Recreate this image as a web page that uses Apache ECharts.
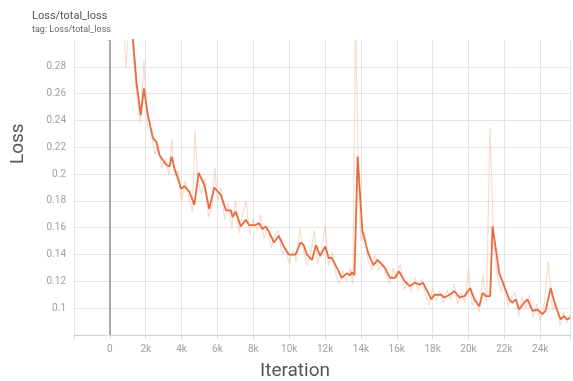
<!DOCTYPE html>
<html>
<head>
<meta charset="utf-8">
<script src="https://cdn.jsdelivr.net/npm/echarts@6/dist/echarts.min.js"></script>
<style>
html,body{margin:0;padding:0;background:#fff;}
#chart{width:573px;height:381px;}
</style>
</head>
<body>
<div id="chart"></div>
<script>
// Smoothed loss: [iteration, loss]
var smoothed = [
[600,0.36],[1000,0.325],[1290,0.30],[1480,0.269],[1720,0.244],[1900,0.264],[2120,0.244],[2400,0.227],[2590,0.224],[2770,0.214],
[3140,0.207],[3330,0.2057],[3440,0.213],[3600,0.2044],[3790,0.197],[3970,0.189],[4160,0.191],[4430,0.187],[4710,0.177],[4950,0.201],
[5270,0.192],[5540,0.174],[5820,0.19],[6190,0.1845],[6470,0.173],[6750,0.173],[6840,0.168],[7020,0.172],[7300,0.161],[7580,0.166],
[7760,0.162],[8130,0.162],[8310,0.1635],[8500,0.159],[8680,0.161],[8870,0.157],[9150,0.149],[9420,0.154],[9700,0.146],[9980,0.14],
[10350,0.14],[10630,0.149],[10810,0.147],[10990,0.14],[11270,0.136],[11490,0.147],[11730,0.139],[12010,0.146],[12200,0.1375],[12380,0.1375],
[12660,0.130],[12930,0.1226],[13210,0.126],[13400,0.1245],[13490,0.127],[13640,0.1245],[13820,0.213],[14080,0.158],[14230,0.15],[14410,0.141],
[14690,0.132],[14930,0.136],[15340,0.130],[15620,0.1226],[15900,0.1226],[16120,0.1275],[16450,0.12],[16720,0.1164],[17000,0.119],[17280,0.1176],
[17460,0.119],[17650,0.114],[17930,0.1066],[18100,0.110],[18470,0.110],[18660,0.108],[18940,0.110],[19220,0.1126],[19500,0.108],[19770,0.109],
[20100,0.115],[20320,0.1066],[20600,0.1015],[20790,0.1114],[20970,0.109],[21210,0.109],[21340,0.161],[21530,0.1436],[21710,0.1263],[21990,0.1164],
[22270,0.1066],[22450,0.104],[22640,0.1066],[22820,0.099],[23100,0.104],[23290,0.1066],[23570,0.098],[23840,0.099],[24120,0.0955],[24300,0.098],
[24580,0.115],[24860,0.1015],[25140,0.0916],[25320,0.094],[25500,0.0916],[25660,0.0928]
];
// Raw loss: [iteration, loss]
var raw = [
[500,0.40],[700,0.33],[900,0.279],[1100,0.32],[1300,0.29],[1500,0.26],[1700,0.238],[1900,0.285],[2100,0.235],[2300,0.232],
[2500,0.215],[2700,0.222],[2900,0.205],[3100,0.212],[3300,0.199],[3450,0.226],[3600,0.198],[3800,0.203],[4000,0.18],[4200,0.195],
[4400,0.183],[4600,0.172],[4750,0.233],[4900,0.196],[5100,0.185],[5300,0.197],[5500,0.168],[5700,0.176],[5850,0.205],[6000,0.18],
[6200,0.19],[6400,0.166],[6600,0.178],[6800,0.16],[7000,0.18],[7200,0.156],[7400,0.17],[7600,0.18],[7800,0.155],[8000,0.167],
[8200,0.158],[8400,0.17],[8600,0.152],[8800,0.162],[9000,0.145],[9200,0.155],[9400,0.158],[9600,0.14],[9800,0.145],[10000,0.133],
[10200,0.143],[10400,0.135],[10600,0.16],[10800,0.143],[11000,0.132],[11200,0.14],[11400,0.158],[11600,0.133],[11800,0.143],[12000,0.161],
[12200,0.132],[12400,0.142],[12600,0.125],[12800,0.118],[13000,0.128],[13200,0.12],[13400,0.13],[13550,0.118],[13700,0.32],[13850,0.2],
[14000,0.15],[14200,0.157],[14400,0.135],[14600,0.128],[14800,0.14],[15000,0.128],[15200,0.134],[15400,0.125],[15600,0.118],[15800,0.13],
[16000,0.122],[16200,0.133],[16400,0.114],[16600,0.12],[16800,0.112],[17000,0.123],[17200,0.113],[17400,0.122],[17600,0.11],[17800,0.102],
[18000,0.115],[18200,0.105],[18400,0.113],[18600,0.104],[18800,0.114],[19000,0.106],[19200,0.118],[19400,0.103],[19600,0.112],[19800,0.104],
[20000,0.13],[20200,0.102],[20400,0.108],[20600,0.097],[20800,0.125],[21000,0.104],[21200,0.235],[21400,0.15],[21600,0.125],[21800,0.112],
[22000,0.12],[22200,0.101],[22400,0.108],[22600,0.112],[22800,0.094],[23000,0.108],[23200,0.1],[23400,0.11],[23600,0.093],[23800,0.103],
[24000,0.091],[24200,0.1],[24450,0.135],[24700,0.098],[24900,0.104],[25100,0.087],[25300,0.097],[25500,0.089],[25660,0.095]
];
var titleText = 'Loss/total_loss';
var tagText = 'tag: Loss/total_loss';
var xName = 'Iteration';
var yName = 'Loss';

var chart = echarts.init(document.getElementById('chart'), null, {renderer:'canvas'});
var fam = 'Roboto, "Noto Sans", sans-serif';
var gridColors = ['#e4e4e4','#e4e4e4','#e4e4e4','#e4e4e4','#e4e4e4','#e4e4e4','#e4e4e4','#e4e4e4','#e4e4e4','#e4e4e4','#e4e4e4','rgba(0,0,0,0)'];
chart.setOption({
  animation:false,
  backgroundColor:'#fff',
  title:{
    text:titleText, subtext:tagText, left:27, top:6, itemGap:3,
    textStyle:{fontFamily:fam,fontSize:11,fontWeight:'normal',color:'#555'},
    subtextStyle:{fontFamily:fam,fontSize:9,color:'#666'}
  },
  grid:{left:74,right:0,top:40,bottom:46,containLabel:false},
  xAxis:{
    type:'value', min:-2000, max:25660, interval:2000,
    axisLine:{show:true,lineStyle:{color:'#cfcfcf',width:1}},
    axisTick:{show:true,length:4,lineStyle:{color:'#d8d8d8'}},
    axisLabel:{
      color:'#a0a0a0', fontSize:10, fontFamily:fam, margin:9,
      formatter:function(v){
        if (v < 0 || Math.abs(v % 2000) > 1e-6) return '';
        return v === 0 ? '0' : (v/1000)+'k';
      }
    },
    splitLine:{show:true,lineStyle:{color:'#e4e4e4',width:1}}
  },
  yAxis:{
    type:'value', min:0.08, max:0.30, interval:0.02,
    axisLine:{show:false},
    axisTick:{show:true,length:4,lineStyle:{color:'#e0e0e0'}},
    axisLabel:{
      color:'#a0a0a0', fontSize:10, fontFamily:fam, margin:8,
      formatter:function(v){
        var r = Math.round(v*100)/100;
        if (r < 0.09 || r > 0.29) return '';
        return String(r);
      }
    },
    splitLine:{show:true,lineStyle:{color:gridColors,width:1}}
  },
  graphic:[
    {type:'text', left:260, top:362, style:{text:xName, font:'19px '+fam, fill:'#555'}},
    {type:'text', x:9, y:164, rotation:Math.PI/2, style:{text:yName, font:'19px '+fam, fill:'#555'}}
  ],
  series:[
    {
      type:'line', data:raw, showSymbol:false, symbol:'none', clip:true,
      lineStyle:{color:'#f3b9a2',width:1.2,opacity:0.5}, z:2, silent:true
    },
    {
      type:'line', data:smoothed, showSymbol:false, symbol:'none', clip:true,
      lineStyle:{color:'#e76b3e',width:1.8}, z:3, silent:true,
      markLine:{
        silent:true, symbol:'none', label:{show:false},
        lineStyle:{color:'#a8a8a8',width:2,type:'solid'},
        data:[{xAxis:0}]
      }
    }
  ]
});
</script>
</body>
</html>
